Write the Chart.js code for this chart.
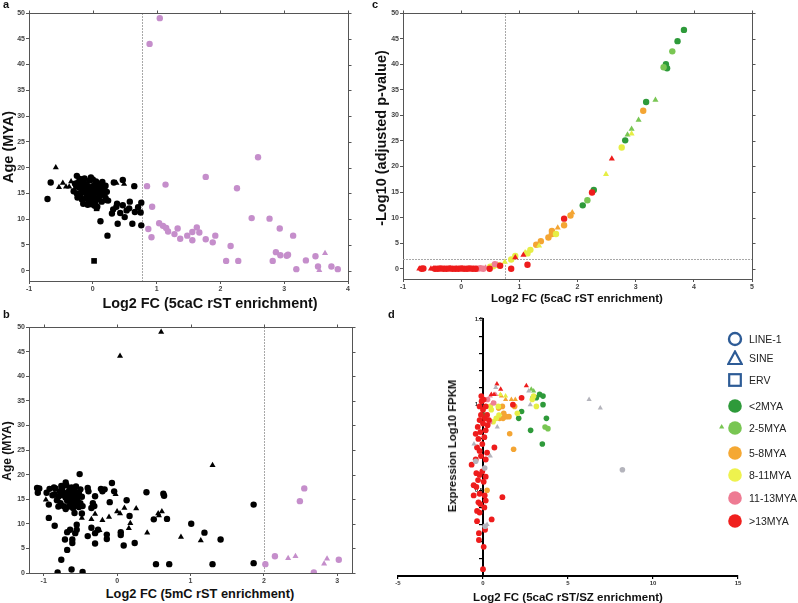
<!DOCTYPE html>
<html>
<head>
<meta charset="utf-8">
<script src="https://cdn.jsdelivr.net/npm/chart.js@4.4.1/dist/chart.umd.min.js"></script>
<style>
  body { margin: 0; background: #fff; }
  #page { position: relative; width: 798px; height: 603px; overflow: hidden; font-family: "Liberation Sans", Arial, Helvetica, sans-serif; color: #111; }
  canvas { position: absolute; }
  .txt { position: absolute; white-space: nowrap; font-weight: bold; transform: translate(-50%, -50%); }
  .rot { transform: translate(-50%, -50%) rotate(-90deg); }
  .letter { position: absolute; font-weight: bold; font-size: 11px; }
  .leg { position: absolute; left: 749px; font-size: 10.5px; color: #222; transform: translateY(-50%); white-space: nowrap; }
  .legIcon { position: absolute; }
</style>
</head>
<body>
<div id="page">
  <canvas id="chart-a" width="365" height="296" style="left:0;top:0"></canvas>
  <canvas id="chart-c" width="400" height="296" style="left:370px;top:0"></canvas>
  <canvas id="chart-b" width="365" height="280" style="left:0;top:305px"></canvas>
  <canvas id="chart-d" width="408" height="303" style="left:390px;top:300px"></canvas>

  <div class="letter" style="left:3px;top:-2px">a</div>
  <div class="letter" style="left:3px;top:308px">b</div>
  <div class="letter" style="left:372px;top:-2px">c</div>
  <div class="letter" style="left:388px;top:308px">d</div>

  <div class="txt rot" style="left:8px;top:147px;font-size:14.5px">Age (MYA)</div>
  <div class="txt" style="left:210px;top:303px;font-size:14.4px">Log2 FC (5caC rST enrichment)</div>
  <div class="txt rot" style="left:7px;top:451px;font-size:12px">Age (MYA)</div>
  <div class="txt" style="left:200px;top:593px;font-size:12.8px">Log2 FC (5mC rST enrichment)</div>
  <div class="txt rot" style="left:381px;top:138px;font-size:14.5px">-Log10 (adjusted p-value)</div>
  <div class="txt" style="left:577px;top:298px;font-size:11.5px">Log2 FC (5caC rST enrichment)</div>
  <div class="txt rot" style="left:452px;top:446px;font-size:11.3px">Expression Log10 FPKM</div>
  <div class="txt" style="left:568px;top:597px;font-size:11.5px">Log2 FC (5caC rST/SZ enrichment)</div>

  <div id="legend"></div>
</div>

<script>
const FONT = '"Liberation Sans", Arial, Helvetica, sans-serif';

// colours
const BLACK = '#000000';
const PURPLE = '#c58ecb';
const DARK_GREEN = '#2e9a3a';
const LIGHT_GREEN = '#79c653';
const ORANGE = '#f4a533';
const YELLOW = '#e6ee45';
const PINK = '#ee7f93';
const RED = '#ee1c1c';
const GREY = '#b4b4bc';

// --- panel a: age vs 5caC enrichment ---
const aXTicks = [-1, 0, 1, 2, 3, 4];
const aYTicks = [0, 5, 10, 15, 20, 25, 30, 35, 40, 45, 50];
const aCutoff = 0.77;
const aBlackCircles = [
  [-0.71, 13.9], [-0.66, 17.1], [0.65, 16.4], [0.33, 17.1], [0.47, 17.6], [0.12, 9.6], [0.23, 6.8],
  [0.39, 9.1], [0.62, 9.1], [0.76, 8.8], [0.30, 11.1], [0.32, 11.9], [0.37, 12.4], [0.47, 12.7],
  [0.53, 11.7], [0.58, 13.4], [0.57, 12.1], [0.66, 11.4], [0.71, 12.3], [0.76, 13.2], [0.75, 11.3],
  [0.50, 10.4], [0.43, 11.2], [0.38, 13.0], [0.21, 13.7], [0.18, 14.7], [0.16, 15.6],
  [-0.25, 18.4], [-0.2, 17.8], [-0.15, 17.2], [-0.1, 16.8], [-0.05, 17.5], [0, 17.7], [0.05, 17.3], [0.1, 16.9], [0.15, 17.2], [0.2, 16.5],
  [-0.28, 16.9], [-0.22, 16.2], [-0.18, 15.8], [-0.12, 16.1], [-0.08, 15.5], [-0.02, 16.2], [0.03, 15.8], [0.08, 16.4], [0.12, 15.6], [0.18, 15.9],
  [-0.3, 15.4], [-0.25, 15.0], [-0.2, 14.6], [-0.14, 15.2], [-0.09, 14.7], [-0.04, 15.0], [0.01, 14.4], [0.06, 15.1], [0.11, 14.5], [0.16, 14.9],
  [-0.24, 14.2], [-0.17, 13.8], [-0.11, 14.0], [-0.06, 13.5], [0, 13.8], [0.04, 13.2], [0.09, 13.9], [0.14, 13.4], [0.2, 14.1], [0.24, 13.6],
  [-0.15, 13.0], [-0.08, 12.8], [-0.02, 12.9], [0.03, 12.6], [0.07, 12.4], [-0.19, 16.7], [-0.13, 17.9], [-0.03, 18.1], [0.02, 16.6], [-0.07, 16.3],
  [0.13, 16.3], [0.22, 15.3], [-0.26, 16.4], [-0.1, 14.3], [0.05, 14.0], [-0.05, 14.5], [0, 15.4], [-0.16, 15.5], [0.1, 15.3], [-0.21, 17.3]
];
const aBlackTriangles = [
  [-0.58, 20.0], [-0.47, 17.0], [-0.53, 16.2], [-0.37, 16.3], [-0.26, 17.1], [-0.34, 17.3], [0.49, 16.8], [0.37, 17.0], [-0.42, 16.3]
];
const aBlackSquares = [[0.02, 1.9], [0.06, 12.1]];
const aPurpleCircles = [
  [1.05, 49.0], [0.89, 44.0], [0.85, 16.4], [1.14, 16.7], [1.77, 18.2], [2.59, 22.0], [2.26, 16.0], [0.93, 12.4],
  [2.49, 10.2], [2.77, 10.1], [2.93, 8.2], [3.14, 6.8], [1.04, 9.2], [1.10, 8.7], [1.15, 8.3], [1.18, 7.6],
  [1.33, 8.2], [1.28, 7.1], [1.37, 6.2], [0.87, 8.1], [0.92, 6.5], [1.48, 6.8], [1.56, 7.5], [1.56, 5.9],
  [1.63, 8.4], [1.67, 7.4], [1.77, 6.1], [1.92, 6.8], [1.88, 5.5], [2.16, 4.8], [2.09, 1.9], [2.28, 1.9],
  [2.82, 1.9], [2.87, 3.6], [2.94, 3.0], [3.04, 2.9], [3.06, 3.1], [3.19, 0.3], [3.34, 2.0], [3.49, 2.8],
  [3.53, 0.8], [3.74, 0.8], [3.84, 0.3]
];
const aPurpleTriangles = [[3.64, 3.4], [3.55, 0.1]];

// --- panel b: age vs 5mC enrichment ---
const bXTicks = [-1, 0, 1, 2, 3];
const bYTicks = [0, 5, 10, 15, 20, 25, 30, 35, 40, 45, 50];
const bCutoff = 2.0;
const bBlackCircles = [
  [1.86, 13.9], [1.86, 2.0], [1.3, 1.8], [0.71, 1.8], [0.53, 1.8], [1.01, 10.0], [1.19, 8.2], [1.41, 6.8],
  [0.68, 11.0], [0.5, 10.9], [0.4, 16.4], [0.63, 16.1], [0.64, 15.7], [0.24, 6.1], [0.09, 5.6], [0.05, 7.7],
  [0.05, 8.3], [0.13, 14.8], [0.17, 11.6], [-0.14, 7.8], [-0.14, 6.9], [-0.3, 6.0], [-0.3, 8.1], [-0.26, 8.8],
  [-0.35, 9.2], [-0.4, 7.5], [-0.48, 12.1], [-0.47, 0.2], [-0.62, 0.7], [-0.81, 0.1], [-0.76, 2.7], [-0.68, 4.7],
  [-0.61, 6.1], [-0.61, 6.8], [-0.71, 6.8], [-0.64, 8.8], [-0.68, 8.3], [-0.57, 8.1], [-0.55, 8.8], [-0.55, 9.8],
  [-0.58, 12.2], [-0.93, 11.2], [-0.85, 9.6], [-0.93, 13.9], [-1.09, 17.3], [-1.06, 17.2], [-1.08, 16.3], [-0.96, 16.3],
  [-0.92, 17.1], [-0.86, 17.4], [-0.51, 20.1], [-0.7, 18.4], [-0.07, 18.3], [-0.04, 16.6], [-0.33, 14.2], [-0.3, 15.6],
  [-0.4, 17.3], [-0.39, 16.6], [-0.22, 17.1], [-0.17, 17.0], [-0.2, 16.6], [-0.1, 14.4], [-0.35, 13.2], [-0.31, 13.6],
  [-0.85, 16.0], [-0.8, 15.5], [-0.78, 16.6], [-0.75, 17.0], [-0.72, 16.2], [-0.7, 15.3], [-0.68, 14.7], [-0.65, 16.8],
  [-0.62, 17.4], [-0.6, 16.0], [-0.58, 15.2], [-0.55, 14.5], [-0.52, 16.3], [-0.5, 17.0], [-0.48, 15.5], [-0.82, 14.8],
  [-0.77, 14.2], [-0.73, 13.6], [-0.7, 13.0], [-0.66, 13.5], [-0.63, 14.0], [-0.6, 13.2], [-0.57, 13.8], [-0.54, 14.8],
  [-0.5, 14.2], [-0.47, 13.6], [-0.88, 15.8], [-0.84, 17.2], [-0.76, 17.7], [-0.69, 17.8], [-0.66, 15.6], [-0.62, 15.0],
  [-0.58, 16.6], [-0.56, 17.6], [-0.53, 15.8], [-0.8, 13.5], [-0.74, 15.8], [-0.67, 16.4], [-0.6, 14.6], [-0.52, 13.4]
];
const bBlackTriangles = [
  [0.60, 49.0], [0.04, 44.1], [1.30, 21.9], [-0.97, 14.9], [-0.48, 11.2], [-0.35, 10.9], [-0.30, 12.0], [-0.2, 10.7],
  [-0.11, 11.4], [-0.24, 8.7], [0.0, 12.5], [0.04, 12.1], [0.1, 13.2], [0.16, 9.1], [0.18, 10.1], [0.26, 13.1],
  [0.41, 8.2], [0.56, 12.1], [0.61, 12.5], [0.57, 11.7], [0.87, 7.3], [1.14, 6.6], [-0.02, 16.0]
];
const bPurpleCircles = [[2.02, 1.8], [2.15, 3.4], [2.49, 14.6], [2.55, 17.2], [2.68, 0.1], [3.02, 2.7]];
const bPurpleTriangles = [[2.33, 3.0], [2.43, 3.4], [2.82, 1.9], [2.86, 2.9]];

// --- panel c: significance vs 5caC enrichment ---
const cXTicks = [-1, 0, 1, 2, 3, 4, 5];
const cYTicks = [0, 5, 10, 15, 20, 25, 30, 35, 40, 45, 50];
const cCutoffX = 0.75;
const cCutoffY = 1.9;
const cDarkGreenCircles = [[3.83, 46.7], [3.72, 44.5], [3.52, 40.0], [3.54, 39.2], [3.18, 32.6], [2.82, 25.1], [2.28, 15.4], [2.09, 12.4]];
const cLightGreenCircles = [[3.63, 42.5], [3.48, 39.4], [2.17, 13.4]];
const cLightGreenTriangles = [[3.34, 33.0], [3.05, 29.1], [2.93, 27.3], [2.86, 26.2]];
const cOrangeCircles = [[3.13, 30.9], [1.88, 10.4], [1.77, 8.5], [1.56, 7.4], [1.56, 6.8], [1.5, 6.1], [1.37, 5.4], [1.29, 4.7]];
const cOrangeTriangles = [[1.91, 11.0], [1.66, 8.0]];
const cYellowCircles = [[2.76, 23.7], [1.63, 6.8], [1.19, 3.7], [1.14, 3.0], [0.86, 1.8], [0.93, 2.5], [0.64, 0.7], [0.5, 0.4], [0.55, 0.5]];
const cYellowTriangles = [[2.93, 26.4], [2.49, 18.5], [1.34, 4.5], [0.75, 1.3], [0.54, 0.6], [1.1, 3.2]];
const cRedCircles = [
  [2.25, 14.9], [1.77, 9.8], [1.14, 0.8], [0.86, 0.0], [0.67, 0.6], [0.49, 0.0],
  [-0.68, 0], [-0.65, 0.05], [-0.45, 0], [-0.4, 0], [-0.35, 0.05], [-0.3, 0], [-0.25, 0], [-0.2, 0.05], [-0.15, 0],
  [-0.1, 0], [-0.05, 0], [0, 0.05], [0.05, 0], [0.1, 0], [0.15, 0.05], [0.2, 0], [0.25, 0]
];
const cRedTriangles = [
  [2.59, 21.5], [1.07, 2.7], [0.93, 2.2], [-0.72, 0], [-0.52, 0], [-0.48, 0], [-0.38, 0], [-0.28, 0],
  [-0.18, 0], [-0.08, 0], [0.02, 0], [0.12, 0], [0.22, 0]
];
const cPinkCircles = [[0.33, 0.1], [0.38, 0], [0.28, 0], [0.58, 0.9]];
const cPinkTriangles = [[0.42, 0.2], [0.62, 0.8]];

// --- panel d: expression vs 5caC rST/SZ enrichment ---
const dXTicks = [-5, 0, 5, 10, 15];
const dYTicks = [0, 0.1, 0.2, 0.3, 0.4, 0.5, 0.6, 0.7, 0.8, 0.9, 1.0, 1.1, 1.2, 1.3, 1.4, 1.5];
const dYLabelled = [0.5, 1.0, 1.5];
const dRedCircles = [
  [-0.1, 1.05], [0, 0.04], [0.04, 0.17], [-0.24, 0.21], [-0.24, 0.25], [-0.35, 0.32], [0.51, 0.33], [1.14, 0.46],
  [-0.67, 0.65], [-0.55, 0.53], [-0.39, 0.52], [-0.2, 0.48], [0.1, 0.47], [-0.27, 0.43], [-0.16, 0.42], [0.16, 0.44],
  [-0.39, 0.6], [-0.2, 0.59], [-0.04, 0.61], [0.16, 0.58], [-0.29, 0.56], [0.04, 0.55], [-0.43, 0.68], [-0.12, 0.7],
  [0.16, 0.68], [-0.2, 0.73], [0.24, 0.72], [0.67, 0.75], [-0.35, 0.75], [-0.04, 0.77], [-0.27, 0.8], [0.08, 0.81],
  [-0.43, 0.83], [-0.16, 0.84], [0.16, 0.85], [-0.31, 0.87], [0, 0.89], [0.27, 0.88], [-0.2, 0.91], [0.12, 0.92],
  [-0.12, 0.94], [0.24, 0.94], [0, 0.97], [-0.2, 0.99], [0.16, 0.99], [-0.08, 1.02], [0.04, 1.03], [0.35, 0.91],
  [1.76, 1.0], [2.27, 1.04], [0.08, 0.4], [-0.35, 0.38], [-0.2, 0.37], [-0.55, 0.47], [0.12, 0.27]
];
const dRedTriangles = [[0.82, 1.12], [1.04, 1.09], [0.65, 1.06], [2.55, 1.11], [0.49, 1.06]];
const dPinkCircles = [[0.27, 1.03], [0.63, 1.01], [0.39, 0.9]];
const dPinkTriangles = [[0.43, 1.05], [0.55, 1.01], [0.75, 1.06]];
const dGreyCircles = [[8.2, 0.62], [-0.43, 0.67], [0.12, 0.29], [0.1, 0.63]];
const dGreyTriangles = [[0.75, 1.1], [2.69, 1.08], [2.78, 1.0], [0.84, 0.87], [-0.53, 0.77], [0.43, 0.7], [0.24, 0.3], [6.24, 1.03], [6.9, 0.98]];
const dOrangeCircles = [[0.92, 0.98], [1.14, 0.99], [1.86, 0.99], [1.22, 0.95], [1.37, 0.93], [1.53, 0.93], [1.18, 0.92], [1.57, 0.83], [1.8, 0.74], [0.98, 0.92], [0.24, 0.5]];
const dOrangeTriangles = [[1.33, 1.03], [1.67, 1.03], [1.9, 1.03], [1.08, 1.05]];
const dYellowCircles = [[0.43, 0.99], [0.49, 0.97], [0.9, 0.99], [0.78, 0.92], [0.94, 0.94], [2.02, 0.95], [3.14, 0.99], [2.9, 1.03], [2.98, 1.05], [0.6, 0.9]];
const dYellowTriangles = [[1.33, 1.05], [1.02, 1.06]];
const dLightGreenCircles = [[2.94, 1.04], [3.65, 0.87], [3.82, 0.86]];
const dLightGreenTriangles = [[2.84, 1.09], [2.98, 1.08], [14.04, 0.87]];
const dDarkGreenCircles = [[3.14, 1.04], [3.33, 1.06], [3.53, 1.05], [3.53, 1.0], [3.73, 0.92], [2.8, 0.85], [3.49, 0.77], [2.27, 0.96], [2.1, 0.92], [0.04, 0.94]];

// legend
const repeatTypes = ['LINE-1', 'SINE', 'ERV'];
const ageGroups = ['<2MYA', '2-5MYA', '5-8MYA', '8-11MYA', '11-13MYA', '>13MYA'];
const ageColors = ['#2e9a3a', '#79c653', '#f5a833', '#eef24e', '#ee7b93', '#f0201e'];

// --- helpers ---

function series(points, color, shape, radius) {
    return {
        data: points.map(([x, y]) => ({ x, y })),
        backgroundColor: color,
        borderColor: color,
        borderWidth: 0,
        pointStyle: shape,
        pointRadius: radius,
        pointHoverRadius: radius
    };
}

function line(ctx, x1, y1, x2, y2) {
    ctx.beginPath();
    ctx.moveTo(x1, y1);
    ctx.lineTo(x2, y2);
    ctx.stroke();
}

// draws the box around a panel, mirrored ticks and the dotted cut-off lines
const framePlugin = {
    id: 'frame',
    beforeDatasetsDraw(chart) {
        const opts = chart.options.plugins.frame || {};
        const { ctx, chartArea: area, scales } = chart;
        ctx.save();
        ctx.strokeStyle = '#a8a8a8';
        ctx.lineWidth = 1;
        ctx.setLineDash([2, 1]);
        (opts.vLines || []).forEach(v => {
            const px = Math.round(scales.x.getPixelForValue(v)) + 0.5;
            line(ctx, px, area.top, px, area.bottom);
        });
        (opts.hLines || []).forEach(v => {
            const py = Math.round(scales.y.getPixelForValue(v)) + 0.5;
            line(ctx, area.left, py, area.right, py);
        });
        ctx.restore();
    },
    afterDraw(chart) {
        const { ctx, chartArea: area, scales } = chart;
        ctx.save();
        ctx.strokeStyle = '#555';
        ctx.lineWidth = 1;
        const r = Math.round(area.right) + 0.5;
        const t = Math.round(area.top) + 0.5;
        line(ctx, area.left, t, r, t);
        line(ctx, r, area.top, r, area.bottom);
        scales.x.ticks.forEach(tk => {
            const px = Math.round(scales.x.getPixelForValue(tk.value)) + 0.5;
            line(ctx, px, t, px, t - 3);
        });
        scales.y.ticks.forEach(tk => {
            const py = Math.round(scales.y.getPixelForValue(tk.value)) + 0.5;
            line(ctx, r, py, r + 3, py);
        });
        ctx.restore();
    }
};

function framedAxis(min, max, ticks, fit) {
    return {
        type: 'linear',
        min: min,
        max: max,
        afterBuildTicks: s => { s.ticks = ticks.map(v => ({ value: v })); },
        afterFit: fit,
        ticks: {
            autoSkip: false,
            maxRotation: 0,
            padding: 1,
            color: '#444',
            font: { family: FONT, size: 7, weight: 'bold' }
        },
        grid: { drawOnChartArea: false, drawTicks: true, tickLength: 3, color: '#555' },
        border: { display: true, color: '#555' }
    };
}

function framedChart(id, cfg) {
    return new Chart(document.getElementById(id), {
        type: 'scatter',
        data: { datasets: cfg.datasets },
        options: {
            responsive: false,
            animation: false,
            events: [],
            layout: { padding: cfg.padding },
            plugins: {
                legend: { display: false },
                tooltip: { enabled: false },
                frame: { vLines: cfg.vLines || [], hLines: cfg.hLines || [] }
            },
            scales: {
                x: framedAxis(cfg.xMin, cfg.xMax, cfg.xTicks, s => { s.height = cfg.xAxisHeight; }),
                y: framedAxis(cfg.yMin, cfg.yMax, cfg.yTicks, s => { s.width = cfg.yAxisWidth; })
            }
        },
        plugins: [framePlugin]
    });
}

// --- panels ---

framedChart('chart-a', {
    datasets: [
        series(aBlackCircles, BLACK, 'circle', 3.2),
        series(aBlackTriangles, BLACK, 'triangle', 3.5),
        series(aBlackSquares, BLACK, 'rect', 4),
        series(aPurpleCircles, PURPLE, 'circle', 3.2),
        series(aPurpleTriangles, PURPLE, 'triangle', 3.5)
    ],
    xMin: -1, xMax: 4, xTicks: aXTicks,
    yMin: -2, yMax: 50, yTicks: aYTicks,
    padding: { top: 13, right: 17, left: 0, bottom: 0 },
    yAxisWidth: 29, xAxisHeight: 15,
    vLines: [aCutoff]
});

framedChart('chart-b', {
    datasets: [
        series(bBlackCircles, BLACK, 'circle', 3.2),
        series(bBlackTriangles, BLACK, 'triangle', 3.5),
        series(bPurpleCircles, PURPLE, 'circle', 3.2),
        series(bPurpleTriangles, PURPLE, 'triangle', 3.5)
    ],
    xMin: -1.2, xMax: 3.2, xTicks: bXTicks,
    yMin: 0, yMax: 50, yTicks: bYTicks,
    padding: { top: 22, right: 13, left: 0, bottom: 0 },
    yAxisWidth: 29, xAxisHeight: 12,
    vLines: [bCutoff]
});

framedChart('chart-c', {
    datasets: [
        series(cRedCircles, RED, 'circle', 3.2),
        series(cRedTriangles, RED, 'triangle', 3.5),
        series(cPinkCircles, PINK, 'circle', 3.2),
        series(cPinkTriangles, PINK, 'triangle', 3.5),
        series(cYellowCircles, YELLOW, 'circle', 3.2),
        series(cYellowTriangles, YELLOW, 'triangle', 3.5),
        series(cOrangeCircles, ORANGE, 'circle', 3.2),
        series(cOrangeTriangles, ORANGE, 'triangle', 3.5),
        series(cLightGreenCircles, LIGHT_GREEN, 'circle', 3.2),
        series(cLightGreenTriangles, LIGHT_GREEN, 'triangle', 3.5),
        series(cDarkGreenCircles, DARK_GREEN, 'circle', 3.2)
    ],
    xMin: -1, xMax: 5, xTicks: cXTicks,
    yMin: -2, yMax: 50, yTicks: cYTicks,
    padding: { top: 13, right: 18, left: 0, bottom: 0 },
    yAxisWidth: 33, xAxisHeight: 17,
    vLines: [cCutoffX], hLines: [cCutoffY]
});

new Chart(document.getElementById('chart-d'), {
    type: 'scatter',
    data: {
        datasets: [
            series(dGreyCircles, GREY, 'circle', 2.8),
            series(dGreyTriangles, GREY, 'triangle', 3),
            series(dRedCircles, RED, 'circle', 2.9),
            series(dRedTriangles, RED, 'triangle', 3),
            series(dPinkCircles, PINK, 'circle', 2.8),
            series(dPinkTriangles, PINK, 'triangle', 3),
            series(dYellowCircles, YELLOW, 'circle', 2.8),
            series(dYellowTriangles, YELLOW, 'triangle', 3),
            series(dOrangeCircles, ORANGE, 'circle', 2.8),
            series(dOrangeTriangles, ORANGE, 'triangle', 3),
            series(dLightGreenCircles, LIGHT_GREEN, 'circle', 2.8),
            series(dLightGreenTriangles, LIGHT_GREEN, 'triangle', 3),
            series(dDarkGreenCircles, DARK_GREEN, 'circle', 2.8)
        ]
    },
    options: {
        responsive: false,
        animation: false,
        events: [],
        layout: { padding: { top: 19, right: 60, left: 8, bottom: 0 } },
        plugins: { legend: { display: false }, tooltip: { enabled: false } },
        scales: {
            x: {
                type: 'linear',
                min: -5,
                max: 15,
                afterBuildTicks: s => { s.ticks = dXTicks.map(v => ({ value: v })); },
                afterFit: s => { s.height = 27; },
                ticks: { autoSkip: false, maxRotation: 0, padding: 1, color: '#333', font: { family: FONT, size: 6, weight: 'bold' } },
                grid: { drawOnChartArea: false, tickLength: 3, color: '#000', lineWidth: 1.2 },
                border: { color: '#000', width: 2 }
            },
            y: {
                type: 'linear',
                position: { x: 0 },
                min: 0,
                max: 1.5,
                afterBuildTicks: s => { s.ticks = dYTicks.map(v => ({ value: v })); },
                ticks: {
                    autoSkip: false,
                    padding: 2,
                    color: '#333',
                    font: { family: FONT, size: 6, weight: 'bold' },
                    callback: v => dYLabelled.includes(v) ? v.toFixed(1) : ''
                },
                grid: { drawOnChartArea: false, tickLength: 3, color: '#000', lineWidth: 1.2 },
                border: { color: '#000', width: 2 }
            }
        }
    }
});

// --- legend for panel d ---
const legend = document.getElementById('legend');
const BLUE = '#2d5b96';
const shapeSvgs = [
    '<svg width="16" height="16"><circle cx="8" cy="8" r="6" fill="none" stroke="' + BLUE + '" stroke-width="2.4"/></svg>',
    '<svg width="16" height="16"><polygon points="8,1.5 14.8,14 1.2,14" fill="none" stroke="' + BLUE + '" stroke-width="2.2"/></svg>',
    '<svg width="16" height="16"><rect x="2.2" y="2.2" width="11.6" height="11.6" fill="none" stroke="' + BLUE + '" stroke-width="2.2"/></svg>'
];
const shapeRows = [339, 358, 380];
const ageRows = [406, 428, 453, 475, 498, 521];

repeatTypes.forEach((name, i) => {
    legend.insertAdjacentHTML('beforeend',
        '<div class="legIcon" style="left:727px;top:' + (shapeRows[i] - 8) + 'px">' + shapeSvgs[i] + '</div>' +
        '<div class="leg" style="top:' + shapeRows[i] + 'px"></div>');
    legend.lastChild.textContent = name;
});
ageGroups.forEach((name, i) => {
    legend.insertAdjacentHTML('beforeend',
        '<div class="legIcon" style="left:727px;top:' + (ageRows[i] - 8) + 'px"><svg width="16" height="16"><circle cx="8" cy="8" r="6.8" fill="' + ageColors[i] + '"/></svg></div>' +
        '<div class="leg" style="top:' + ageRows[i] + 'px"></div>');
    legend.lastChild.textContent = name;
});
</script>
</body>
</html>
